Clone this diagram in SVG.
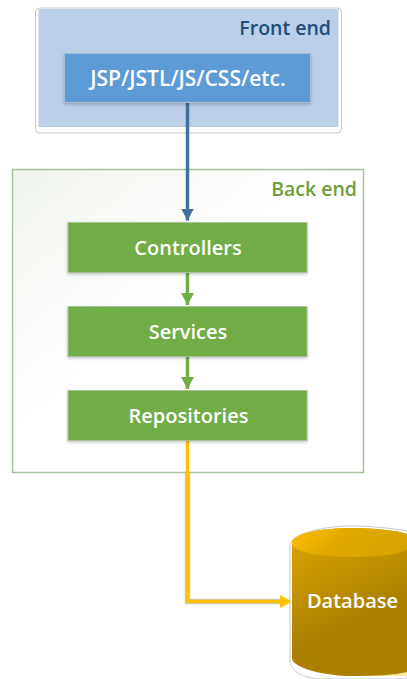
<svg xmlns="http://www.w3.org/2000/svg" width="407" height="679" viewBox="0 0 407 679">
<defs>
<linearGradient id="bk" gradientUnits="userSpaceOnUse" x1="12" y1="170" x2="150" y2="330"><stop offset="0" stop-color="#f0f4ed"/><stop offset="0.5" stop-color="#f8faf7"/><stop offset="1" stop-color="#ffffff"/></linearGradient>
<linearGradient id="cyl" gradientUnits="userSpaceOnUse" x1="310" y1="540" x2="350" y2="625"><stop offset="0" stop-color="#d5a000"/><stop offset="1" stop-color="#ab8000"/></linearGradient>
<linearGradient id="cyltop" x1="0" y1="0" x2="1" y2="0.3"><stop offset="0" stop-color="#ffc000"/><stop offset="0.5" stop-color="#e0a800"/><stop offset="1" stop-color="#d9a400"/></linearGradient>
<filter id="sh" x="-5%" y="-10%" width="110%" height="125%"><feDropShadow dx="0" dy="1.500" stdDeviation="1.500" flood-color="#000" flood-opacity="0.22"/></filter>
<marker id="ab" markerUnits="userSpaceOnUse" markerWidth="14" markerHeight="14" refX="12" refY="7" orient="auto"><path d="M0 0.500L12 7L0 13.500z" fill="#41719c"/></marker>
<marker id="ag" markerUnits="userSpaceOnUse" markerWidth="14" markerHeight="14" refX="12" refY="7" orient="auto"><path d="M0 0.500L12 7L0 13.500z" fill="#70ad47"/></marker>
<marker id="ay" markerUnits="userSpaceOnUse" markerWidth="14" markerHeight="14" refX="12" refY="7" orient="auto"><path d="M0 0.500L12 7L0 13.500z" fill="#ffc000"/></marker>
</defs>
<style>
text{font-family:"Open Sans","Noto Sans",sans-serif;font-weight:600}
.w{fill:#fff;font-size:20px;text-anchor:middle}
.g{fill:#70ad47;stroke:#a9c29a;stroke-width:1;filter:url(#sh)}
.c{fill:none;stroke-width:3.500}
</style>
<g id="front-end">
<rect x="35.500" y="8" width="306" height="125" rx="4" fill="#fff" stroke="#c8c8c8" stroke-width="1"/>
<rect x="38.500" y="9" width="300" height="118" fill="#bbcfe8"/>
<text x="331" y="35" font-size="19.500" text-anchor="end" style="fill:#1f4e79">Front end</text>
</g>
<g id="back-end">
<rect x="12.500" y="169.500" width="351" height="303" fill="url(#bk)" stroke="#a9c29a" stroke-width="1.500"/>
<text x="357" y="196" font-size="19.500" text-anchor="end" style="fill:#6f9e3a">Back end</text>
</g>
<g id="connectors">
<path class="c" d="M187.500 102V220.500" stroke="#41719c" stroke-width="4" marker-end="url(#ab)"/>
<path class="c" d="M187.500 272V305" stroke="#70ad47" marker-end="url(#ag)"/>
<path class="c" d="M187.500 356V389" stroke="#70ad47" marker-end="url(#ag)"/>
<path d="M187.500 473V601.500H282" fill="none" stroke="#c9c9c9" stroke-width="5.500"/>
<path class="c" d="M187.500 441V601.500H292" stroke="#ffc000" stroke-width="3" marker-end="url(#ay)"/>
</g>
<g id="jsp">
<rect x="64.500" y="53.500" width="246" height="49" fill="#5b9bd5" stroke="#a9bdd2" stroke-width="1" filter="url(#sh)"/>
<text class="w" x="188" y="86" style="font-size:21px">JSP/JSTL/JS/CSS/etc.</text>
</g>
<g id="controllers">
<rect class="g" x="68" y="222.500" width="239" height="50"/>
<text class="w" x="188" y="254.500">Controllers</text>
</g>
<g id="services">
<rect class="g" x="68" y="306.500" width="239" height="50"/>
<text class="w" x="188" y="338.500">Services</text>
</g>
<g id="repositories">
<rect class="g" x="68" y="390.500" width="239" height="50"/>
<text class="w" x="188.500" y="422.500">Repositories</text>
</g>
<g id="database">
<path d="M290 545C292 533 325 526 352 526C380 526 407 531 407 531V679H318C300 677 290 670 290 660Z" fill="#fff" stroke="#c8c8c8"/>
<path d="M292 543C292 533 325 528 352 528C380 528 407 532 407 535V676H352C325 676 292 668 292 658Z" fill="#ffe9a6"/>
<path d="M292 543C292 533 325 528 352 528C380 528 407 532 407 535V672C395 675 375 676 352 676C325 676 292 668 292 658Z" fill="url(#cyl)"/>
<path d="M292 543C292 533 325 528 352 528C380 528 407 532 407 535V550C395 555 375 557 352 557C325 557 292 553 292 543Z" fill="url(#cyltop)"/>
<text class="w" x="352.500" y="608">Database</text>
</g>
</svg>
